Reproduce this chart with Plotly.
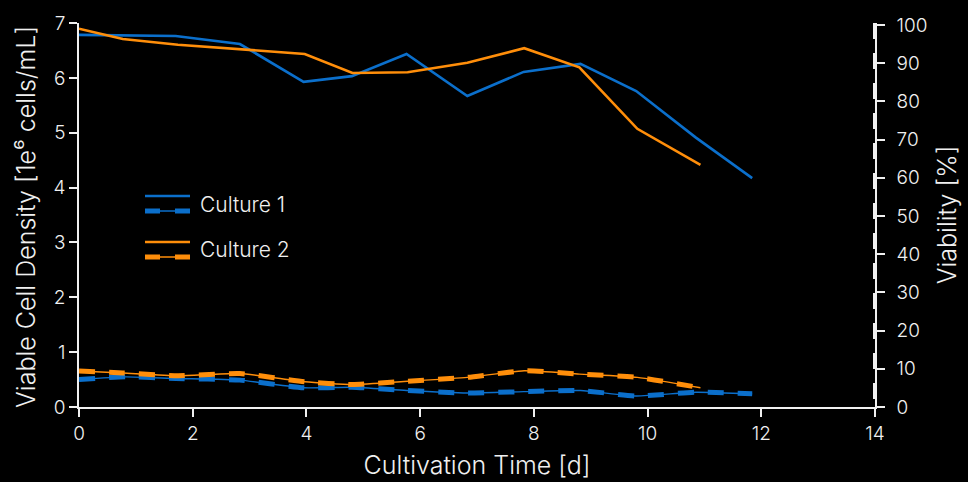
import plotly.graph_objects as go

# Days
days_c1 = [0, 0.82, 1.70, 2.83, 3.95, 4.80, 5.76, 6.83, 7.82, 8.82, 9.80, 10.85, 11.84]
days_c2 = [0, 0.77, 1.74, 2.83, 3.97, 4.81, 5.78, 6.83, 7.83, 8.80, 9.82, 10.93]

# Viability [%] (right axis, solid lines)
via_c1 = [97.4, 97.3, 97.1, 95.0, 85.1, 86.6, 92.4, 81.4, 87.7, 89.8, 82.7, 70.5, 59.9]
via_c2 = [99.0, 96.3, 94.8, 93.6, 92.4, 87.4, 87.6, 90.1, 93.9, 88.9, 72.8, 63.4]

# Viable cell density [1e6 cells/mL] (left axis, dashed lines)
vcd_c1 = [0.50, 0.55, 0.52, 0.49, 0.35, 0.36, 0.30, 0.255, 0.28, 0.30, 0.20, 0.27, 0.24]
vcd_c2 = [0.656, 0.62, 0.57, 0.61, 0.46, 0.41, 0.47, 0.54, 0.66, 0.60, 0.54, 0.35]

x_ticks = [0, 2, 4, 6, 8, 10, 12, 14]
y1_ticks = [0, 1, 2, 3, 4, 5, 6, 7]
y2_ticks = [0, 10, 20, 30, 40, 50, 60, 70, 80, 90, 100]

BLUE = "#0b6fcb"
ORANGE = "#ff8e0a"
TXT = "#f0f0f0"
FONT = "Inter"
W = 300

fig = go.Figure()

for d, vcd, via, col in [(days_c1, vcd_c1, via_c1, BLUE), (days_c2, vcd_c2, via_c2, ORANGE)]:
    fig.add_trace(go.Scatter(x=d, y=via, yaxis="y2", mode="lines",
                             line=dict(color=col, width=2.6), showlegend=False))
    fig.add_trace(go.Scatter(x=d, y=vcd, mode="lines",
                             line=dict(color=col, width=1.4, shape="spline", smoothing=0.5),
                             showlegend=False))
    fig.add_trace(go.Scatter(x=d, y=vcd, mode="lines",
                             line=dict(color=col, width=5, dash="16px,14px", shape="spline", smoothing=0.5),
                             showlegend=False))

tick_font = dict(family=FONT, size=19, color=TXT, weight=W)
title_font = dict(family=FONT, size=25, color=TXT, weight=W)

axis_common = dict(showgrid=False, zeroline=False, showline=True, linecolor=TXT, linewidth=1.5,
                   ticks="outside", ticklen=8, tickwidth=1.5, tickcolor=TXT,
                   tickfont=tick_font, automargin=False)

fig.update_layout(
    width=968, height=482,
    margin=dict(l=79, r=93, t=23, b=75),
    paper_bgcolor="black", plot_bgcolor="black",
    font=dict(family=FONT, color=TXT),
    xaxis=dict(range=[0, 14], tickvals=x_ticks,
               title=dict(text="Cultivation Time [d]", font=title_font, standoff=13),
               **axis_common),
    yaxis=dict(range=[0, 7], tickvals=y1_ticks, **axis_common),
    yaxis2=dict(range=[0, 100.5], tickvals=y2_ticks, overlaying="y", side="right",
                ticklabelstandoff=8,
                title=dict(text="Viability [%]", font=title_font, standoff=12),
                **axis_common),
)

# manual legend / title helpers (paper coordinates)
def px_x(p):
    return (p - 79) / 796

def px_y(p):
    return (407 - p) / 384

# left axis title
fig.add_annotation(xref="paper", yref="paper", x=px_x(26), y=px_y(217),
                   text="Viable Cell Density [1e⁶ cells/mL]", textangle=-90, showarrow=False,
                   xanchor="center", yanchor="middle", font=title_font)

# dashed decoration on the right axis
fig.add_shape(type="line", xref="paper", yref="paper", x0=1, x1=1, y0=1, y1=0,
              line=dict(color=TXT, width=4, dash="16px,14px"))

for col, ys, yd, yt, name in [(BLUE, 196, 211, 204, "Culture 1"), (ORANGE, 242, 257, 249, "Culture 2")]:
    fig.add_shape(type="line", xref="paper", yref="paper", x0=px_x(145), x1=px_x(190),
                  y0=px_y(ys), y1=px_y(ys), line=dict(color=col, width=2.6))
    fig.add_shape(type="line", xref="paper", yref="paper", x0=px_x(145), x1=px_x(190),
                  y0=px_y(yd), y1=px_y(yd), line=dict(color=col, width=1.4))
    for a, b in [(145, 160), (175, 190)]:
        fig.add_shape(type="line", xref="paper", yref="paper", x0=px_x(a), x1=px_x(b),
                      y0=px_y(yd), y1=px_y(yd), line=dict(color=col, width=5))
    fig.add_annotation(xref="paper", yref="paper", x=px_x(198), y=px_y(yt), text=name,
                       showarrow=False, xanchor="left", yanchor="middle",
                       font=dict(family=FONT, size=21, color=TXT, weight=W))

fig.write_html("out.html", config={"displayModeBar": False},
               post_script="document.body.style.margin='0';document.body.style.background='black';")
